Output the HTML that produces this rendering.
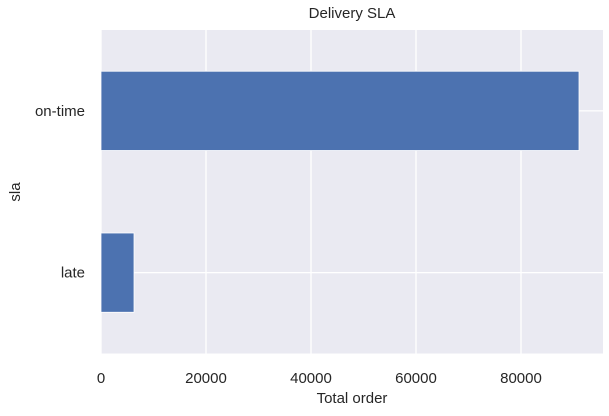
<!DOCTYPE html>
<html><head><meta charset="utf-8"><style>
body{margin:0;background:#fff;}
svg text{font-family:"Liberation Sans",Arial,sans-serif;fill:#262626;}
</style></head><body>
<svg width="609" height="411">
<rect x="101" y="30" width="502" height="323.5" fill="#eaeaf2"/>
<g id="grid"></g>
<g id="bars"></g>
<g id="ticks"></g>
<text x="352" y="18" font-size="15" text-anchor="middle">Delivery SLA</text>
<text x="352" y="403" font-size="15" text-anchor="middle">Total order</text>
<text x="20" y="192" font-size="15" text-anchor="middle" transform="rotate(-90 20 192)">sla</text>
</svg>
<script>
const categories=["late","on-time"];
const values=[6290,91050];
const xTicks=[0,20000,40000,60000,80000];
const xMax=95620;
const L=101,R=603,T=30,B=353.5;
const ns="http://www.w3.org/2000/svg";
function xs(v){return L+v/xMax*(R-L);}
const band=(B-T)/categories.length;
function yc(i){return B-band*(i+0.5);}
function mk(t,a,p){const e=document.createElementNS(ns,t);for(const k in a)e.setAttribute(k,a[k]);document.getElementById(p).appendChild(e);return e;}
xTicks.forEach(t=>{
 const g=mk('line',{x1:xs(t),x2:xs(t),y1:T,y2:B,stroke:'#fff','stroke-width':1.3},'grid');
 
 
 const tx=mk('text',{x:xs(t),y:383,'font-size':15,'text-anchor':'middle'},'ticks');
 tx.textContent=t;
 
 
});
categories.forEach((c,i)=>{
 const g=mk('line',{x1:L,x2:R,y1:yc(i),y2:yc(i),stroke:'#fff','stroke-width':1.3},'grid');
 
 
 const h=band*0.49;
 const r=mk('rect',{x:L,y:yc(i)-h/2,width:xs(values[i])-L,height:h,fill:'#4c72b0',stroke:'#fff','stroke-width':0.8},'bars');
 
 
 const tx=mk('text',{x:85,y:yc(i)+5,'font-size':15,'text-anchor':'end'},'ticks');
 tx.textContent=c;
 
 
});
</script>
</body></html>
